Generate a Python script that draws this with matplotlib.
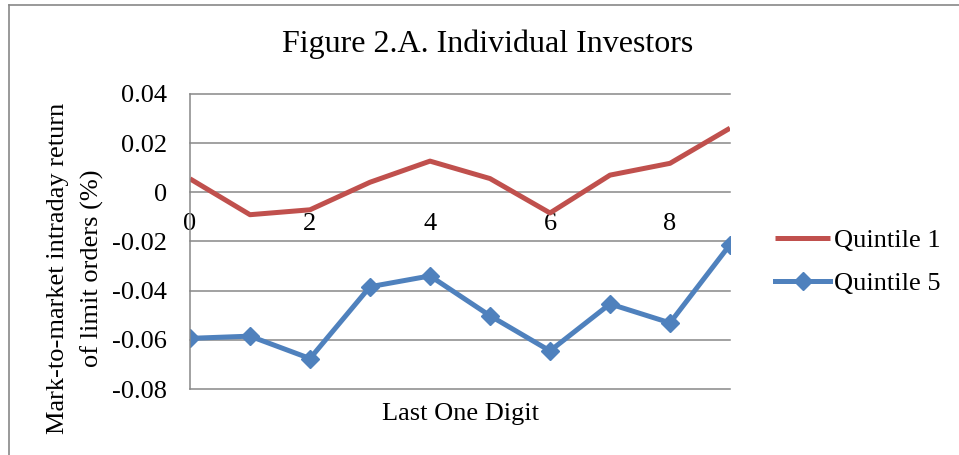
import matplotlib
matplotlib.use("Agg")
import matplotlib.pyplot as plt
from matplotlib.lines import Line2D

# data
digits = [0, 1, 2, 3, 4, 5, 6, 7, 8, 9]
quintile_1 = [0.0055, -0.0091, -0.0071, 0.0041, 0.0127, 0.0056, -0.0084, 0.0070, 0.0118, 0.0261]
quintile_5 = [-0.0594, -0.0585, -0.0676, -0.0384, -0.0340, -0.0502, -0.0645, -0.0454, -0.0531, -0.0213]
x_ticks = [0, 2, 4, 6, 8]
y_ticks = [-0.08, -0.06, -0.04, -0.02, 0, 0.02, 0.04]
y_labels = ["-0.08", "-0.06", "-0.04", "-0.02", "0", "0.02", "0.04"]

RED = "#C0504D"
BLUE = "#4F81BD"
GREY = "#888888"
FS = 19

plt.rcParams['font.family'] = ['Liberation Serif', 'DejaVu Serif']

W, H = 959, 455
fig = plt.figure(figsize=(W / 100, H / 100), dpi=100)
ax = fig.add_axes([190 / W, 1 - 389 / H, 540 / W, 295 / H])

ax.plot(digits, quintile_1, color=RED, linewidth=3.6, solid_capstyle='butt', label='Quintile 1')
ax.plot(digits, quintile_5, color=BLUE, linewidth=3.6, marker='D', markersize=9,
        label='Quintile 5')

ax.set_xlim(0, 9)
ax.set_ylim(-0.08, 0.04)
ax.set_yticks(y_ticks)
ax.set_yticklabels(y_labels)
ax.set_xticks(x_ticks)

# category labels sit just under the zero line
ax.spines['bottom'].set_position(('data', 0))
for s in ['top', 'right', 'bottom']:
    ax.spines[s].set_visible(False)
ax.spines['left'].set_color(GREY)
ax.spines['left'].set_linewidth(1.1)
ax.tick_params(axis='both', length=0, labelsize=FS)
ax.tick_params(axis='y', pad=16.5)
ax.tick_params(axis='x', pad=15)

ax.grid(axis='y', color=GREY, linewidth=1.1)
ax.set_axisbelow(True)
for gl in ax.get_ygridlines():
    gl.set_clip_on(False)

ax.set_xlabel('Last One Digit', fontsize=FS)
ax.xaxis.set_label_coords(0.5, -0.048)

fig.text(58 / W, 1 - 268 / H, 'Mark-to-market intraday return', rotation=90,
         fontsize=FS, ha='center', va='center')
fig.text(92 / W, 1 - 268 / H, 'of limit orders (%)', rotation=90,
         fontsize=FS, ha='center', va='center')

fig.text(488 / W, 1 - 44 / H, 'Figure 2.A. Individual Investors', fontsize=23,
         ha='center', va='center')

ax.legend(loc='center left', bbox_to_anchor=(775 / W, 1 - 262 / H),
          bbox_transform=fig.transFigure, frameon=False, fontsize=FS,
          handlelength=2.1, handletextpad=0.15, labelspacing=0.75, borderpad=0,
          borderaxespad=0)

# outer frame of the chart (only top and left edges are visible)
fig.add_artist(Line2D([9 / W, 1], [1 - 4.5 / H, 1 - 4.5 / H], color=GREY, linewidth=1.2,
                      transform=fig.transFigure))
fig.add_artist(Line2D([9 / W, 9 / W], [0, 1 - 4.5 / H], color=GREY, linewidth=1.2,
                      transform=fig.transFigure))

fig.savefig("out.png", dpi=100)
